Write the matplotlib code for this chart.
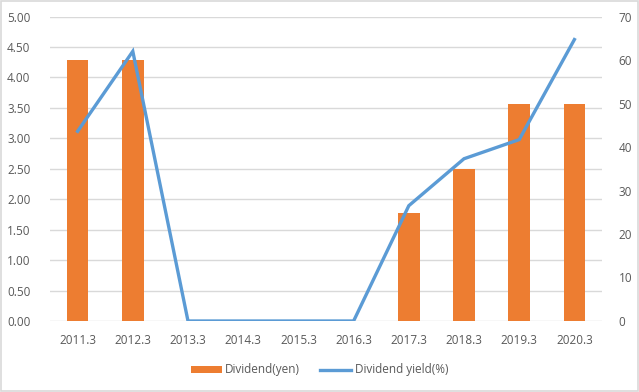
import matplotlib.pyplot as plt
from matplotlib.patches import Rectangle
import numpy as np

plt.rcParams["font.family"] = ["Open Sans", "DejaVu Sans"]

years = ["2011.3", "2012.3", "2013.3", "2014.3", "2015.3",
         "2016.3", "2017.3", "2018.3", "2019.3", "2020.3"]
dividend_yen = [4.28, 4.28, 0, 0, 0, 0, 1.78, 2.50, 3.57, 3.57]
dividend_yield = [43.6, 62.0, 0, 0, 0, 0, 26.5, 37.3, 41.7, 64.7]

BAR_COLOR = "#ED7D31"
LINE_COLOR = "#5B9BD5"
GRID_COLOR = "#D9D9D9"
TEXT_COLOR = "#595959"

fig = plt.figure(figsize=(6.39, 3.92), dpi=100)
fig.patches.append(Rectangle((0.002, 0.003), 0.996, 0.994, transform=fig.transFigure,
                             fill=False, edgecolor="#D9D9D9", linewidth=1.2))

ax = fig.add_axes([50 / 639, 1 - 321 / 392, 552 / 639, (321 - 16.5) / 392])
x = np.arange(len(years))

ax.bar(x, dividend_yen, width=0.39, color=BAR_COLOR, label="Dividend(yen)", zorder=2)
ax.set_ylim(0, 5)
ax.set_yticks(np.arange(0, 5.01, 0.5))
ax.set_yticklabels([f"{v:.2f}" for v in np.arange(0, 5.01, 0.5)])
ax.set_xlim(-0.5, len(years) - 0.5)
ax.set_xticks(x)
ax.set_xticklabels(years)
ax.grid(axis="y", color=GRID_COLOR, linewidth=1, zorder=0)
ax.set_axisbelow(True)

ax2 = ax.twinx()
ax2.plot(x, dividend_yield, color=LINE_COLOR, linewidth=2.4, label="Dividend yield(%)",
         solid_joinstyle="miter", zorder=3)
ax2.set_ylim(0, 70)
ax2.set_yticks(range(0, 71, 10))

for a in (ax, ax2):
    for s in a.spines.values():
        s.set_visible(False)
    a.tick_params(length=0, colors=TEXT_COLOR, labelsize=8.5)
ax.tick_params(axis="y", pad=14)
ax.tick_params(axis="x", pad=9)
ax2.tick_params(axis="y", pad=12)

h1, l1 = ax.get_legend_handles_labels()
h2, l2 = ax2.get_legend_handles_labels()
leg = fig.legend(h1 + h2, l1 + l2, loc="center", bbox_to_anchor=(0.5, 1 - 370 / 392),
                 ncol=2, frameon=False, fontsize=8.5, handlelength=2.6,
                 handleheight=0.6, columnspacing=1.7, handletextpad=0.3)
for t in leg.get_texts():
    t.set_color(TEXT_COLOR)

fig.savefig("out.png", dpi=100)
